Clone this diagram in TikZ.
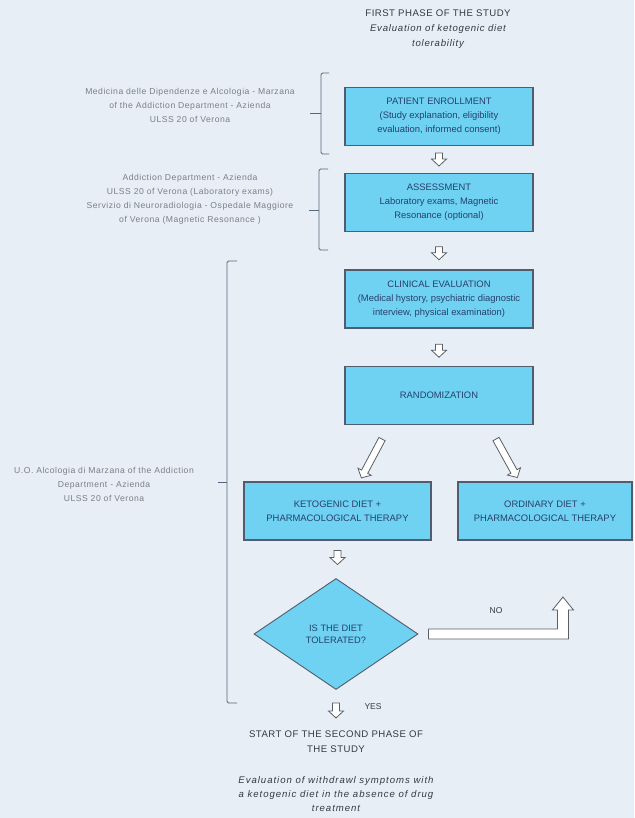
\documentclass[tikz,border=0pt]{standalone}
\usepackage{fontspec}
\setmainfont{Liberation Sans}
\usetikzlibrary{shapes.geometric,calc}
\definecolor{bg}{HTML}{E8EEF6}
\definecolor{boxfill}{HTML}{6FD2F3}
\definecolor{boxline}{HTML}{4F5D6E}
\definecolor{boxtext}{HTML}{27406A}
\definecolor{sidetext}{HTML}{7A7F88}
\definecolor{titletext}{HTML}{333A44}
\definecolor{brk}{HTML}{55667D}
\definecolor{arrline}{HTML}{5A5F66}
\begin{document}
\begin{tikzpicture}[x=1pt,y=-1pt,
  box/.style={draw=boxline, line width=1.1pt, fill=boxfill, text=boxtext, align=center,
    font=\fontsize{9.4}{14}\selectfont, inner sep=0pt, minimum width=188pt, minimum height=58pt},
  dec/.style={diamond, draw=boxline, line width=0.9pt, fill=boxfill, text=boxtext, align=center,
    font=\fontsize{9.3}{12}\selectfont, inner sep=0pt, minimum width=164pt, minimum height=111pt},
  side/.style={text=sidetext, align=center, font=\fontsize{8.6}{14}\selectfont\addfontfeature{LetterSpace=6}, inner sep=0pt},
  ttl/.style={text=titletext, align=center, font=\fontsize{9.6}{15}\selectfont, inner sep=0pt},
  lbl/.style={text=titletext, font=\fontsize{8.5}{10}\selectfont, inner sep=0pt},
  barrow/.style={draw=arrline, line width=0.8pt, fill=white, line join=miter},
  brace/.style={draw=brk, line width=0.9pt, rounded corners=1.5pt},
  pics/darr/.style={code={\draw[barrow] (-3.5,0) -- (-3.5,#1-7) -- (-7.5,#1-7) -- (0,#1)
      -- (7.5,#1-7) -- (3.5,#1-7) -- (3.5,0) -- cycle;}}]
\fill[bg] (0,0) rectangle (634,818);
\useasboundingbox (0,0) rectangle (634,818);

% title
\node[ttl] (title) at (438,29) {\addfontfeature{LetterSpace=5}FIRST PHASE OF THE STUDY\\\itshape\addfontfeature{LetterSpace=8}Evaluation of ketogenic diet\\\itshape\addfontfeature{LetterSpace=8}tolerability};

% boxes
\node[box] (enr) at (439,116.5) {PATIENT ENROLLMENT\\(Study explanation, eligibility\\evaluation, informed consent)};
\node[box] (ass) at (439,202.5) {ASSESSMENT\\Laboratory exams, Magnetic\\Resonance (optional)};
\node[box] (cli) at (439,299) {CLINICAL EVALUATION\\(Medical hystory, psychiatric diagnostic\\interview, physical examination)};
\node[box] (ran) at (439,395.5) {RANDOMIZATION};
\node[box, minimum width=187pt] (ket) at (337.5,511) {KETOGENIC DIET +\\PHARMACOLOGICAL THERAPY};
\node[box, minimum width=174pt] (ord) at (545,511) {ORDINARY DIET +\\PHARMACOLOGICAL THERAPY};
\node[dec] (tol) at (336,634) {IS THE DIET\\TOLERATED?};

% block arrows
\pic at ($(enr.south)!0.5!(ass.north)+(0,-6.5)$) {darr=13};
\pic at ($(ass.south)!0.5!(cli.north)+(0,-4)$) {darr=13};
\pic at ($(cli.south)!0.5!(ran.north)+(0,-3)$) {darr=13};
\pic[rotate=-28] at ($(ran.south)+(-57,14)$) {darr=44};
\pic[rotate=29] at ($(ran.south)+(57,14)$) {darr=44};
\pic at ($(ket.south)+(0,10)$) {darr=14};
\pic at ($(tol.south)+(0,13)$) {darr=15};
\draw[barrow] ($(tol.east)+(10,-5)$) coordinate (noStart) -- ++(129,0) -- ++(0,-19) -- ++(-5,0)
  -- ++(10.5,-13) -- ++(10.5,13) -- ++(-5,0) -- ++(0,29) -- ++(-140,0) -- cycle;

\node[lbl] (no) at (496,611) {NO};
\node[lbl] (yes) at (373,707) {YES};

% brackets
\draw[brace] (329,73) -- (321,73) -- (321,154) -- (329,154);
\draw[brace] (321,113) -- (310,113);
\draw[brace] (328,169) -- (319,169) -- (319,250) -- (328,250);
\draw[brace] (319,210) -- (309,210);
\draw[brace] (237,261) -- (227,261) -- (227,703) -- (237,703);
\draw[brace] (227,482) -- (218,482);

% side texts
\node[side] (s1) at (190,105) {Medicina delle Dipendenze e Alcologia - Marzana\\of the Addiction Department - Azienda\\ULSS 20 of Verona};
\node[side] (s2) at (190,199) {Addiction Department - Azienda\\ULSS 20 of Verona (Laboratory exams)\\Servizio di Neuroradiologia - Ospedale Maggiore\\of Verona (Magnetic Resonance )};
\node[side] (s3) at (104,484) {U.O. Alcologia di Marzana of the Addiction\\Department - Azienda\\ULSS 20 of Verona};

% bottom
\node[ttl, font=\fontsize{9.6}{15}\selectfont\addfontfeature{LetterSpace=5}] (sec) at (336,742) {START OF THE SECOND PHASE OF\\THE STUDY};
\node[ttl, font=\fontsize{9.6}{14}\selectfont\itshape\addfontfeature{LetterSpace=10}] (ev) at (336,794) {Evaluation of withdrawl symptoms with\\a ketogenic diet in the absence of drug\\treatment};
\end{tikzpicture}
\end{document}
